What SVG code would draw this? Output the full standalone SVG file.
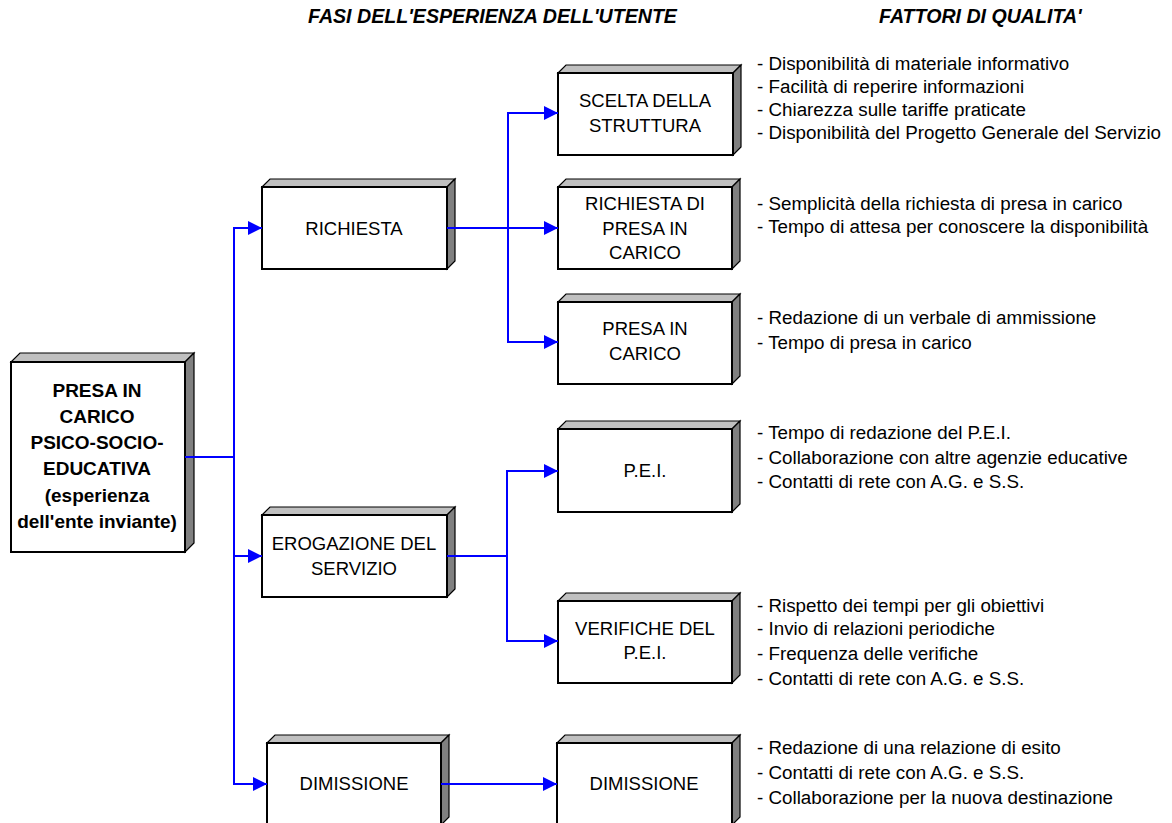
<svg xmlns="http://www.w3.org/2000/svg" width="1172" height="823" viewBox="0 0 1172 823">
<style>
.front{fill:#fff;stroke:#000;stroke-width:2}
.top{fill:#c0c0c0;stroke:#000;stroke-width:1.2}
.side{fill:#808080;stroke:#000;stroke-width:1.2}
.lbl{font-family:"Liberation Sans",Arial,sans-serif;font-size:18.5px;fill:#000;text-anchor:middle}
.bold{font-weight:bold;font-size:19px}
.list{font-family:"Liberation Sans",Arial,sans-serif;font-size:18.8px;fill:#000}
.hdr{font-family:"Liberation Sans",Arial,sans-serif;font-size:19.6px;font-weight:bold;font-style:italic;fill:#000}
.conn{fill:none;stroke:#0000ff;stroke-width:2}
</style>
<defs>
<marker id="arr" markerUnits="userSpaceOnUse" markerWidth="16" markerHeight="16" refX="14" refY="7" orient="auto">
<path d="M0,0 L14,7 L0,14 Z" fill="#0000ff"/>
</marker>
</defs>
<rect width="1172" height="823" fill="#fff"/>

<text class="hdr" x="308" y="23">FASI DELL'ESPERIENZA DELL'UTENTE</text>
<text class="hdr" x="879" y="23">FATTORI DI QUALITA'</text>

<g id="node-main">
<polygon class="top" points="11,362 20,353 194,353 185,362"/>
<polygon class="side" points="185,362 194,353 194,543 185,552"/>
<rect class="front" x="11" y="362" width="174" height="190"/>
<text class="lbl bold" x="97" y="397">PRESA IN</text>
<text class="lbl bold" x="97" y="423">CARICO</text>
<text class="lbl bold" x="97" y="449">PSICO-SOCIO-</text>
<text class="lbl bold" x="97" y="475">EDUCATIVA</text>
<text class="lbl bold" x="97" y="502">(esperienza</text>
<text class="lbl bold" x="97" y="528">dell'ente inviante)</text>
</g>

<g id="node-richiesta">
<polygon class="top" points="262,187 270,179 455,179 447,187"/>
<polygon class="side" points="447,187 455,179 455,261 447,269"/>
<rect class="front" x="262" y="187" width="185" height="82"/>
<text class="lbl" x="354" y="235">RICHIESTA</text>
</g>

<g id="node-erogazione">
<polygon class="top" points="262,515 270,507 455,507 447,515"/>
<polygon class="side" points="447,515 455,507 455,589 447,597"/>
<rect class="front" x="262" y="515" width="185" height="82"/>
<text class="lbl" x="354" y="550">EROGAZIONE DEL</text>
<text class="lbl" x="354" y="575">SERVIZIO</text>
</g>

<g id="node-dimissione1">
<polygon class="top" points="267,743 275,735 449,735 441,743"/>
<polygon class="side" points="441,743 449,735 449,817 441,825"/>
<rect class="front" x="267" y="743" width="174" height="82"/>
<text class="lbl" x="354" y="790">DIMISSIONE</text>
</g>

<g id="node-scelta">
<polygon class="top" points="558,73 566,65 741,65 733,73"/>
<polygon class="side" points="733,73 741,65 741,147 733,155"/>
<rect class="front" x="558" y="73" width="175" height="82"/>
<text class="lbl" x="645" y="107">SCELTA DELLA</text>
<text class="lbl" x="645" y="132">STRUTTURA</text>
</g>

<g id="node-richiestadi">
<polygon class="top" points="558,187 566,179 740,179 732,187"/>
<polygon class="side" points="732,187 740,179 740,261 732,269"/>
<rect class="front" x="558" y="187" width="174" height="82"/>
<text class="lbl" x="645" y="210">RICHIESTA DI</text>
<text class="lbl" x="645" y="235">PRESA IN</text>
<text class="lbl" x="645" y="259">CARICO</text>
</g>

<g id="node-presaincarico">
<polygon class="top" points="558,302 566,294 740,294 732,302"/>
<polygon class="side" points="732,302 740,294 740,376 732,384"/>
<rect class="front" x="558" y="302" width="174" height="82"/>
<text class="lbl" x="645" y="335">PRESA IN</text>
<text class="lbl" x="645" y="360">CARICO</text>
</g>

<g id="node-pei">
<polygon class="top" points="558,429 566,421 740,421 732,429"/>
<polygon class="side" points="732,429 740,421 740,504 732,512"/>
<rect class="front" x="558" y="429" width="174" height="83"/>
<text class="lbl" x="645" y="477">P.E.I.</text>
</g>

<g id="node-verifiche">
<polygon class="top" points="558,601 566,593 740,593 732,601"/>
<polygon class="side" points="732,601 740,593 740,675 732,683"/>
<rect class="front" x="558" y="601" width="174" height="82"/>
<text class="lbl" x="645" y="635">VERIFICHE DEL</text>
<text class="lbl" x="645" y="659">P.E.I.</text>
</g>

<g id="node-dimissione2">
<polygon class="top" points="557,743 565,735 740,735 732,743"/>
<polygon class="side" points="732,743 740,735 740,817 732,825"/>
<rect class="front" x="557" y="743" width="175" height="82"/>
<text class="lbl" x="644" y="790">DIMISSIONE</text>
</g>

<g id="lists">
<text class="list" x="757" y="70">- Disponibilità di materiale informativo</text>
<text class="list" x="757" y="93">- Facilità di reperire informazioni</text>
<text class="list" x="757" y="116">- Chiarezza sulle tariffe praticate</text>
<text class="list" x="757" y="139">- Disponibilità del Progetto Generale del Servizio</text>
<text class="list" x="757" y="210">- Semplicità della richiesta di presa in carico</text>
<text class="list" x="757" y="233">- Tempo di attesa per conoscere la disponibilità</text>
<text class="list" x="757" y="324">- Redazione di un verbale di ammissione</text>
<text class="list" x="757" y="349">- Tempo di presa in carico</text>
<text class="list" x="757" y="439">- Tempo di redazione del P.E.I.</text>
<text class="list" x="757" y="464">- Collaborazione con altre agenzie educative</text>
<text class="list" x="757" y="488">- Contatti di rete con A.G. e S.S.</text>
<text class="list" x="757" y="612">- Rispetto dei tempi per gli obiettivi</text>
<text class="list" x="757" y="635">- Invio di relazioni periodiche</text>
<text class="list" x="757" y="660">- Frequenza delle verifiche</text>
<text class="list" x="757" y="685">- Contatti di rete con A.G. e S.S.</text>
<text class="list" x="757" y="754">- Redazione di una relazione di esito</text>
<text class="list" x="757" y="779">- Contatti di rete con A.G. e S.S.</text>
<text class="list" x="757" y="804">- Collaborazione per la nuova destinazione</text>
</g>

<g id="connectors">
<path class="conn" d="M185,457 H234"/>
<path class="conn" d="M234,457 V228 H262" marker-end="url(#arr)"/>
<path class="conn" d="M234,457 V556 H262" marker-end="url(#arr)"/>
<path class="conn" d="M234,457 V784 H267" marker-end="url(#arr)"/>
<path class="conn" d="M447,228 H558" marker-end="url(#arr)"/>
<path class="conn" d="M508,228 V113 H558" marker-end="url(#arr)"/>
<path class="conn" d="M508,228 V342 H558" marker-end="url(#arr)"/>
<path class="conn" d="M447,556 H507"/>
<path class="conn" d="M507,556 V471 H558" marker-end="url(#arr)"/>
<path class="conn" d="M507,556 V641 H558" marker-end="url(#arr)"/>
<path class="conn" d="M441,784 H557" marker-end="url(#arr)"/>
</g>
</svg>
